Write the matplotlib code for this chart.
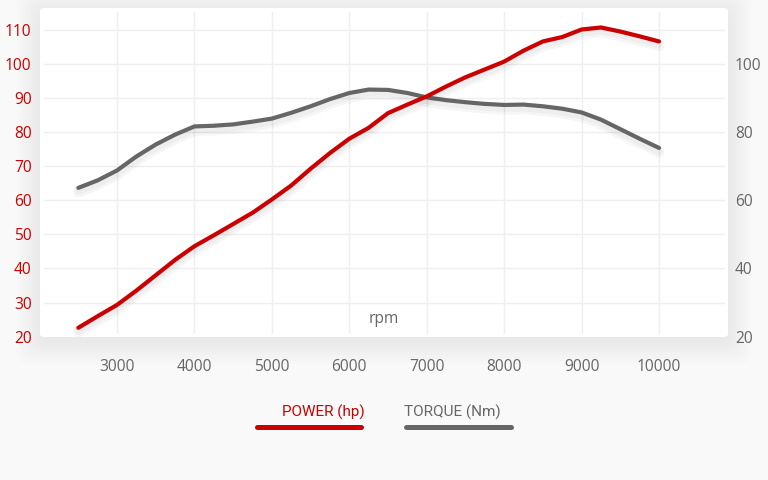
import matplotlib
matplotlib.use("Agg")
import matplotlib.pyplot as plt
from matplotlib.patches import FancyBboxPatch
from matplotlib.lines import Line2D
import matplotlib.patheffects as pe

rpm = [2500, 2750, 3000, 3250, 3500, 3750, 4000, 4250, 4500, 4750, 5000,
       5250, 5500, 5750, 6000, 6250, 6500, 6750, 7000, 7250, 7500, 7750,
       8000, 8250, 8500, 8750, 9000, 9250, 9500, 9750, 10000]
power_hp = [22.6, 26.0, 29.3, 33.5, 38.0, 42.5, 46.5, 49.7, 53.0, 56.3, 60.2,
            64.3, 69.2, 73.8, 78.0, 81.2, 85.5, 88.0, 90.4, 93.3, 96.0, 98.3,
            100.6, 103.8, 106.5, 107.8, 110.0, 110.6, 109.4, 108.0, 106.5]
torque_nm = [63.6, 65.8, 68.7, 72.8, 76.3, 79.2, 81.6, 81.8, 82.2, 83.0, 83.9,
             85.6, 87.5, 89.6, 91.4, 92.4, 92.3, 91.4, 90.1, 89.3, 88.7, 88.2,
             87.9, 88.0, 87.5, 86.8, 85.7, 83.6, 80.8, 78.0, 75.3]
x_ticks = [3000, 4000, 5000, 6000, 7000, 8000, 9000, 10000]
left_ticks = [20, 30, 40, 50, 60, 70, 80, 90, 100, 110]
right_ticks = [20, 40, 60, 80, 100]

RED = "#cc0000"
GRAY = "#666666"
BG = "#f9f9f9"

W, H = 768, 480
fig = plt.figure(figsize=(7.68, 4.80), dpi=100, facecolor=BG)

L, R, T, B = 40, 728, 8, 337
def fx(px): return px / W
def fy(py): return 1 - py / H

# soft shadow layers around the plot box
for i in range(8):
    g = 2 + i * 3
    sh = FancyBboxPatch((fx(L - g), fy(B + g + 4)), fx(R - L + 2 * g), (B - T + 2 * g) / H,
                        boxstyle="round,pad=0,rounding_size=0.02",
                        transform=fig.transFigure, facecolor="#000000", alpha=0.007,
                        edgecolor="none", zorder=0)
    fig.patches.append(sh)
box = FancyBboxPatch((fx(L), fy(B)), fx(R - L), (B - T) / H,
                     boxstyle="round,pad=0,rounding_size=0.006",
                     transform=fig.transFigure, facecolor="#ffffff",
                     edgecolor="none", zorder=1)
fig.patches.append(box)

ax = fig.add_axes([fx(L), fy(B), fx(R - L), (B - T) / H])
ax.set_facecolor("none")
ax.set_zorder(2)
for s in ax.spines.values():
    s.set_visible(False)

xmin, xmax = 2005, 10891
ymin, ymax = 19.9, 116.3
ax.set_xlim(xmin, xmax)
ax.set_ylim(ymin, ymax)

for v in x_ticks:
    ax.axvline(v, ymin=0.012, ymax=0.988, color="#efefef", lw=1, zorder=0)
for v in left_ticks[1:]:
    ax.axhline(v, xmin=0.006, xmax=0.994, color="#efefef", lw=1, zorder=0)

shadow = [pe.SimpleLineShadow(offset=(0, -3), shadow_color="black", alpha=0.035, linewidth=8),
          pe.SimpleLineShadow(offset=(0, -2.5), shadow_color="black", alpha=0.03, linewidth=5),
          pe.Normal()]
ax.plot(rpm, torque_nm, color=GRAY, lw=3.0, solid_capstyle="round",
        solid_joinstyle="round", path_effects=shadow, zorder=3)
ax.plot(rpm, power_hp, color=RED, lw=3.0, solid_capstyle="round",
        solid_joinstyle="round", path_effects=shadow, zorder=4)

font = "Open Sans"
fs = 11.2
ax.set_xticks(x_ticks)
ax.set_xticklabels([str(v) for v in x_ticks], color=GRAY, fontsize=fs, family=font)
ax.set_yticks(left_ticks)
ax.set_yticklabels([str(v) for v in left_ticks], color=RED, fontsize=fs, family=font)
ax.tick_params(axis="x", length=0, pad=16)
ax.tick_params(axis="y", length=0, pad=6)

ax2 = ax.twinx()
ax2.set_ylim(ymin, ymax)
for s in ax2.spines.values():
    s.set_visible(False)
ax2.set_yticks(right_ticks)
ax2.set_yticklabels([str(v) for v in right_ticks], color=GRAY, fontsize=fs, family=font)
ax2.tick_params(axis="y", length=0, pad=5)

ax.text(0.5, 0.055, "rpm", transform=ax.transAxes, ha="center", va="center",
        color=GRAY, fontsize=fs, family=font, fontweight="medium")

# legend
fig.text(fx(365), fy(412), "POWER (hp)", ha="right", va="center", color=RED,
         fontsize=11, family="Roboto")
fig.text(fx(404), fy(412), "TORQUE (Nm)", ha="left", va="center", color=GRAY,
         fontsize=11, family="Roboto")
fig.add_artist(Line2D([fx(257), fx(361)], [fy(426.5), fy(426.5)], transform=fig.transFigure,
                      color=RED, lw=3.6, solid_capstyle="round"))
fig.add_artist(Line2D([fx(406), fx(511)], [fy(426.5), fy(426.5)], transform=fig.transFigure,
                      color=GRAY, lw=3.6, solid_capstyle="round"))

fig.savefig("out.png", dpi=100, facecolor=BG)
